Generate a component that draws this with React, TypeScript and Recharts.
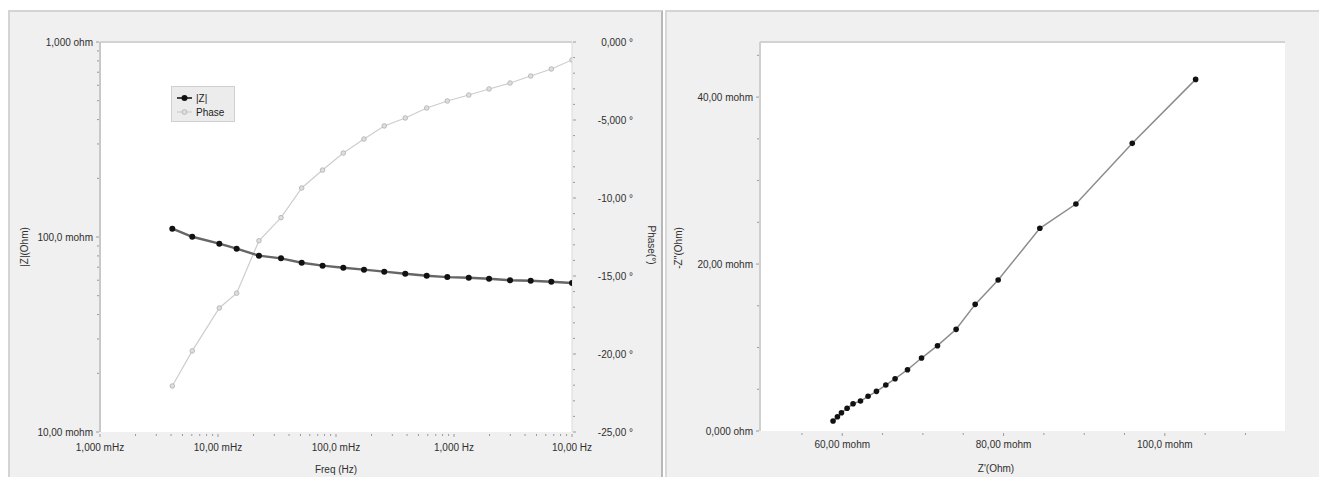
import React from 'react';
import { LineChart, Line, XAxis, YAxis, CartesianGrid, ReferenceLine, Legend } from 'recharts';

// Impedance spectrum (low frequency first)
const frequencyHz = [0.0041, 0.00605, 0.01026, 0.01439, 0.02223, 0.0342, 0.0512, 0.0769, 0.1153, 0.1726, 0.2564, 0.3864, 0.587, 0.8775, 1.334, 1.982, 2.985, 4.467, 6.68, 10.0];
const impedanceOhm = [0.1103, 0.1003, 0.0924, 0.0871, 0.0802, 0.0777, 0.0738, 0.0713, 0.0696, 0.068, 0.0664, 0.0648, 0.0633, 0.0623, 0.0618, 0.0611, 0.06, 0.0597, 0.059, 0.0581];
const phaseDeg = [-22.05, -19.8, -17.05, -16.1, -12.74, -11.26, -9.36, -8.21, -7.12, -6.22, -5.38, -4.87, -4.23, -3.78, -3.4, -3.01, -2.63, -2.18, -1.73, -1.15];

// Nyquist data in mohm (same frequency order)
const zRealMohm = [103.82, 95.96, 88.97, 84.5, 79.33, 76.48, 74.12, 71.81, 69.83, 68.09, 66.55, 65.4, 64.24, 63.2, 62.26, 61.34, 60.6, 59.9, 59.4, 58.86];
const zImagNegMohm = [42.12, 34.46, 27.19, 24.28, 18.08, 15.17, 12.18, 10.22, 8.74, 7.34, 6.26, 5.51, 4.75, 4.16, 3.59, 3.26, 2.72, 2.19, 1.71, 1.2];

// Tick values and labels
const freqMajorTicks = [0.001, 0.01, 0.1, 1, 10];
const freqTickLabels = ['1,000 mHz', '10,00 mHz', '100,0 mHz', '1,000 Hz', '10,00 Hz'];
const magMajorTicks = [0.01, 0.1, 1];
const magTickLabels = ['10,00 mohm', '100,0 mohm', '1,000 ohm'];
const phaseMajorTicks = [-25, -20, -15, -10, -5, 0];
const phaseTickLabels = ['-25,00 °', '-20,00 °', '-15,00 °', '-10,00 °', '-5,000 °', '0,000 °'];
const phaseMinorTicks = [-24, -23, -22, -21, -19, -18, -17, -16, -14, -13, -12, -11, -9, -8, -7, -6, -4, -3, -2, -1];
const zReMajorTicks = [60, 80, 100];
const zReTickLabels = ['60,00 mohm', '80,00 mohm', '100,0 mohm'];
const zReMinorTicks = [55, 65, 70, 75, 85, 90, 95, 105, 110];
const zImMajorTicks = [0, 20, 40];
const zImTickLabels = ['0,000 ohm', '20,00 mohm', '40,00 mohm'];
const zImMinorTicks = [5, 10, 15, 25, 30, 35, 45];

const logSubdivisions = [2, 3, 4, 5, 6, 7, 8, 9];
const withLogMinors = (majors: number[]) => {
  const out: number[] = [];
  majors.forEach((m, i) => {
    out.push(m);
    if (i < majors.length - 1) logSubdivisions.forEach((k) => out.push(+(m * k).toPrecision(6)));
  });
  return out;
};

const freqTicks = withLogMinors(freqMajorTicks);
const magTicks = withLogMinors(magMajorTicks);
const phaseTicks = [...phaseMajorTicks, ...phaseMinorTicks].sort((a, b) => a - b);
const zReTicks = [...zReMajorTicks, ...zReMinorTicks].sort((a, b) => a - b);
const zImTicks = [...zImMajorTicks, ...zImMinorTicks].sort((a, b) => a - b);

const spectrumData = frequencyHz.map((f, i) => ({ freq: f, mag: impedanceOhm[i], phase: phaseDeg[i] }));
const nyquistData = zRealMohm.map((r, i) => ({ zre: r, zim: zImagNegMohm[i] }));

const FONT = '"Liberation Sans", Arial, sans-serif';
const TEXT = '#2f2f2f';
const TICK = '#9a9a9a';

const findMajor = (majors: number[], v: number) =>
  majors.findIndex((m) => Math.abs(m - v) <= Math.abs(m) * 1e-6 + 1e-9);

type Side = 'bottom' | 'left' | 'right';

const makeTick = (majors: number[], labels: string[], side: Side, labelGap: number) => (props: any) => {
  const { x, y, payload } = props;
  const idx = findMajor(majors, payload.value);
  const major = idx >= 0;
  if (side === 'bottom') {
    return (
      <g>
        <line x1={x} x2={x} y1={y + 2} y2={y + (major ? 5 : 4)} stroke={TICK} strokeWidth={1} />
        {major && (
          <text x={x} y={y + labelGap} textAnchor="middle" fontSize={10} fontFamily={FONT} fill={TEXT}>
            {labels[idx]}
          </text>
        )}
      </g>
    );
  }
  if (side === 'left') {
    return (
      <g>
        <line x1={x - (major ? 4 : 3)} x2={x - 1} y1={y} y2={y} stroke={TICK} strokeWidth={1} />
        {major && (
          <text x={x - labelGap} y={y} dy="0.35em" textAnchor="end" fontSize={10} fontFamily={FONT} fill={TEXT}>
            {labels[idx]}
          </text>
        )}
      </g>
    );
  }
  return (
    <g>
      <line x1={x + 1} x2={x + (major ? 4 : 3)} y1={y} y2={y} stroke={TICK} strokeWidth={1} />
      {major && (
        <text x={x + labelGap} y={y} dy="0.35em" textAnchor="end" fontSize={10} fontFamily={FONT} fill={TEXT}>
          {labels[idx]}
        </text>
      )}
    </g>
  );
};

const freqTick = makeTick(freqMajorTicks, freqTickLabels, 'bottom', 18.5);
const magTick = makeTick(magMajorTicks, magTickLabels, 'left', 7);
const phaseTick = makeTick(phaseMajorTicks, phaseTickLabels, 'right', 61);
const zReTick = makeTick(zReMajorTicks, zReTickLabels, 'bottom', 16.5);
const zImTick = makeTick(zImMajorTicks, zImTickLabels, 'left', 7);

const title = (text: string, x: number, y: number, angle = 0) => () => (
  <text
    x={x}
    y={y}
    textAnchor="middle"
    dominantBaseline="central"
    transform={angle ? `rotate(${angle} ${x} ${y})` : undefined}
    fontSize={10}
    fontFamily={FONT}
    fill={TEXT}
  >
    {text}
  </text>
);

const LegendBox = () => (
  <div
    style={{
      width: 62,
      height: 34,
      background: '#ececec',
      border: '1px solid #cfcfcf',
      fontFamily: FONT,
      fontSize: 10,
      color: '#222',
      boxSizing: 'content-box',
    }}
  >
    <svg width={62} height={34} style={{ display: 'block' }}>
      <line x1={5} x2={20} y1={11} y2={11} stroke="#444" strokeWidth={2} />
      <circle cx={12.5} cy={11} r={3} fill="#111" />
      <text x={24} y={11} dy="0.35em" fontSize={10} fontFamily={FONT} fill="#222">|Z|</text>
      <line x1={5} x2={20} y1={25} y2={25} stroke="#cfcfcf" strokeWidth={1.2} />
      <circle cx={12.5} cy={25} r={2.4} fill="#dedede" stroke="#b0b0b0" strokeWidth={0.8} />
      <text x={24} y={25} dy="0.35em" fontSize={10} fontFamily={FONT} fill="#222">Phase</text>
    </svg>
  </div>
);

export default function App() {
  return (
    <div style={{ position: 'absolute', left: 0, top: 0, width: 1319, height: 477, background: '#ffffff', overflow: 'hidden' }}>
      {/* panel frames */}
      <div
        style={{
          position: 'absolute',
          left: 8,
          top: 10,
          width: 655,
          height: 467,
          background: '#f0f0f0',
          borderLeft: '2px solid #d4d4d4',
          borderTop: '2px solid #d4d4d4',
          borderRight: '2px solid #b8b8b8',
          boxSizing: 'border-box',
        }}
      />
      <div
        style={{
          position: 'absolute',
          left: 665,
          top: 10,
          width: 654,
          height: 467,
          background: '#f0f0f0',
          borderLeft: '2px solid #d8d8d8',
          borderTop: '2px solid #d4d4d4',
          boxSizing: 'border-box',
        }}
      />

      {/* Bode plot */}
      <LineChart
        width={663}
        height={477}
        data={spectrumData}
        margin={{ top: 42, right: 0, bottom: 0, left: 0 }}
        style={{ position: 'absolute', left: 0, top: 0 }}
      >
        <CartesianGrid yAxisId="mag" fill="#ffffff" stroke="none" horizontal={false} vertical={false} />
        <XAxis
          dataKey="freq"
          type="number"
          scale="log"
          domain={[0.001, 10]}
          allowDataOverflow
          ticks={freqTicks}
          interval={0}
          tickSize={0}
          tickMargin={0}
          tickLine={false}
          axisLine={false}
          height={45}
          tick={freqTick}
          label={{ content: title('Freq (Hz)', 336, 469) }}
        />
        <YAxis
          yAxisId="mag"
          orientation="left"
          type="number"
          scale="log"
          domain={[0.01, 1]}
          allowDataOverflow
          ticks={magTicks}
          interval={0}
          tickSize={0}
          tickMargin={0}
          tickLine={false}
          axisLine={{ stroke: '#c8c8c8', strokeWidth: 2 }}
          width={100}
          tick={magTick}
          label={{ content: title('|Z|(Ohm)', 24.5, 247, -90) }}
        />
        <YAxis
          yAxisId="phase"
          orientation="right"
          type="number"
          domain={[-25, 0]}
          allowDataOverflow
          ticks={phaseTicks}
          interval={0}
          tickSize={0}
          tickMargin={0}
          tickLine={false}
          axisLine={{ stroke: '#dadada', strokeWidth: 1 }}
          width={91}
          tick={phaseTick}
          label={{ content: title('Phase(°)', 651, 245, 90) }}
        />
        <ReferenceLine yAxisId="mag" y={1} stroke="#d2d2d2" strokeWidth={2} ifOverflow="visible" />
        <Legend
          layout="vertical"
          align="center"
          verticalAlign="middle"
          content={() => <LegendBox />}
          wrapperStyle={{ left: 171, top: 86, width: 64, height: 36 }}
        />
        <Line
          yAxisId="phase"
          dataKey="phase"
          name="Phase"
          type="linear"
          stroke="#cdcdcd"
          strokeWidth={1.2}
          dot={{ r: 2.3, fill: '#dedede', stroke: '#aeaeae', strokeWidth: 0.8 }}
          activeDot={false}
          isAnimationActive={false}
        />
        <Line
          yAxisId="mag"
          dataKey="mag"
          name="|Z|"
          type="linear"
          stroke="#666666"
          strokeWidth={2.4}
          dot={{ r: 3, fill: '#111111', stroke: '#111111', strokeWidth: 0 }}
          activeDot={false}
          isAnimationActive={false}
        />
      </LineChart>

      {/* Nyquist plot */}
      <LineChart
        width={656}
        height={477}
        data={nyquistData}
        margin={{ top: 42, right: 34, bottom: 0, left: 0 }}
        style={{ position: 'absolute', left: 663, top: 0 }}
      >
        <CartesianGrid fill="#ffffff" stroke="none" horizontal={false} vertical={false} />
        <XAxis
          dataKey="zre"
          type="number"
          domain={[49.8, 114.9]}
          allowDataOverflow
          ticks={zReTicks}
          interval={0}
          tickSize={0}
          tickMargin={0}
          tickLine={false}
          axisLine={false}
          height={46}
          tick={zReTick}
          label={{ content: title("Z'(Ohm)", 333, 468) }}
        />
        <YAxis
          type="number"
          domain={[0, 46.6]}
          allowDataOverflow
          ticks={zImTicks}
          interval={0}
          tickSize={0}
          tickMargin={0}
          tickLine={false}
          axisLine={{ stroke: '#cfcfcf', strokeWidth: 2 }}
          width={97}
          tick={zImTick}
          label={{ content: title("-Z''(Ohm)", 15.5, 248, -90) }}
        />
        <ReferenceLine y={46.6} stroke="#d2d2d2" strokeWidth={2} ifOverflow="visible" />
        <Line
          dataKey="zim"
          type="linear"
          stroke="#8c8c8c"
          strokeWidth={1.5}
          dot={{ r: 2.8, fill: '#111111', stroke: '#111111', strokeWidth: 0 }}
          activeDot={false}
          isAnimationActive={false}
        />
      </LineChart>
    </div>
  );
}
